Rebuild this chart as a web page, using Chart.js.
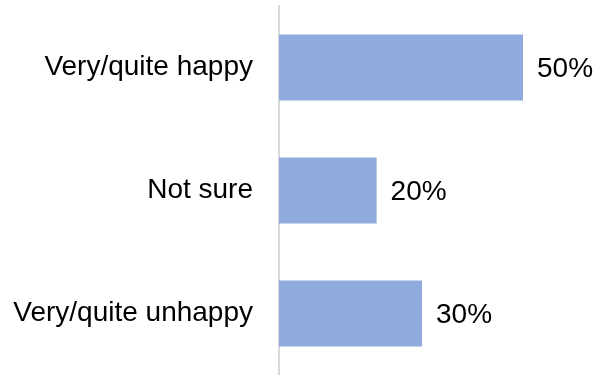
<!DOCTYPE html>
<html>
<head>
<meta charset="utf-8">
<script src="https://cdn.jsdelivr.net/npm/chart.js@4/dist/chart.umd.min.js"></script>
<style>
html,body{margin:0;padding:0;background:#fff;overflow:hidden;}
canvas{display:block;}
</style>
</head>
<body>
<canvas id="c" width="598" height="375" style="width:598px;height:375px"></canvas>
<script>
const categories = ["Very/quite happy", "Not sure", "Very/quite unhappy"];
const values = [50, 20, 29.3];
const valueLabels = ["50%", "20%", "30%"];

const FONT = "'Liberation Sans', Arial, sans-serif";

const endLabels = {
  id: 'endLabels',
  afterDatasetsDraw(chart) {
    const ctx = chart.ctx;
    const meta = chart.getDatasetMeta(0);
    ctx.save();
    ctx.font = "28px " + FONT;
    ctx.fillStyle = "#000";
    ctx.textAlign = "left";
    ctx.textBaseline = "middle";
    meta.data.forEach((bar, i) => {
      ctx.fillText(valueLabels[i], bar.x + 14, bar.y + 2);
    });
    ctx.restore();
  }
};

new Chart(document.getElementById('c'), {
  type: 'bar',
  data: {
    labels: categories,
    datasets: [{
      data: values,
      backgroundColor: '#8FAADC',
      borderWidth: 0,
      categoryPercentage: 1,
      barPercentage: 0.537
    }]
  },
  options: {
    indexAxis: 'y',
    responsive: false,
    animation: false,
    layout: { padding: { top: 6, right: 75, bottom: 0, left: 0 } },
    plugins: { legend: { display: false }, tooltip: { enabled: false } },
    scales: {
      x: { display: false, min: 0, max: 50 },
      y: {
        afterFit(scale) { scale.width = 279; scale.paddingTop = 0; scale.paddingBottom = 0; },
        grid: { display: true, color: 'rgba(0,0,0,0)', drawTicks: false },
        border: { display: true, color: '#D9D9D9', width: 2 },
        ticks: {
          padding: 26,
          color: '#000',
          font: { family: FONT, size: 28 }
        }
      }
    }
  },
  plugins: [endLabels]
});
</script>
</body>
</html>
